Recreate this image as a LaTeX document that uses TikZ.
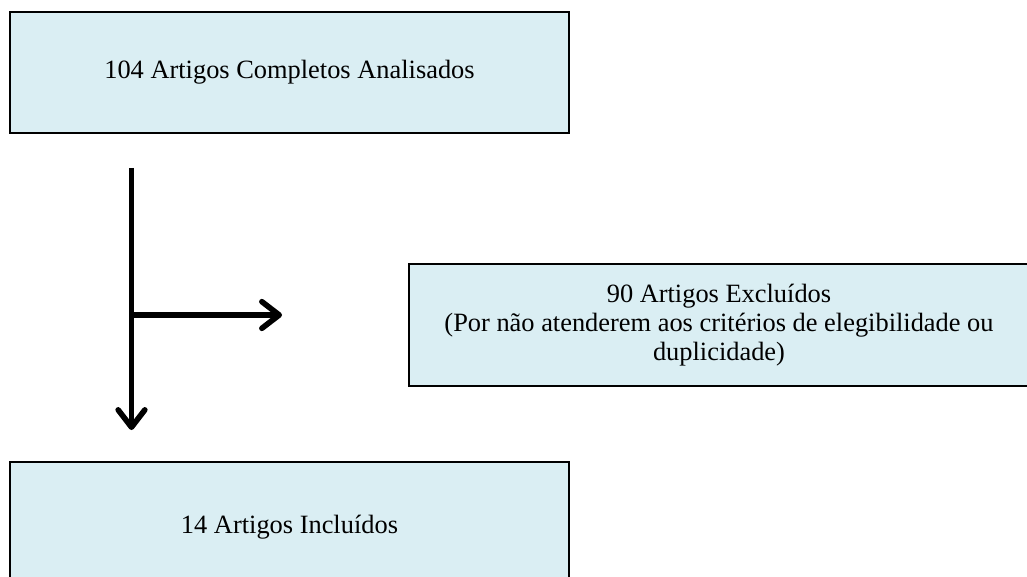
\documentclass[tikz,border=0pt]{standalone}
\usepackage{fontspec}
\setmainfont{Liberation Serif}
\usetikzlibrary{arrows.meta}
\definecolor{boxfill}{HTML}{DAEEF3}
\tikzset{
  flowbox/.style={draw=black, line width=1.5pt, fill=boxfill, inner sep=0pt,
    font=\fontsize{19.8pt}{21.75pt}\selectfont, align=center},
  flowline/.style={line width=4.2pt, line cap=butt},
  flowarrow/.style={flowline, -{Straight Barb[length=13pt,width=20pt,line cap=round,line join=round]}}
}
\begin{document}
\begin{tikzpicture}[x=0.75pt,y=-0.75pt]
\useasboundingbox (0,0) rectangle (1027,577);
\node[flowbox, minimum width=559*0.75pt, minimum height=121*0.75pt] (top) at (289.5,72.5) {104 Artigos Completos Analisados};
\node[flowbox, minimum width=620*0.75pt, minimum height=122*0.75pt] (excl) at (719,325) {90 Artigos Excluídos\\(Por não atenderem aos critérios de elegibilidade ou\\duplicidade)};
\node[flowbox, minimum width=559*0.75pt, minimum height=130*0.75pt] (incl) at (289.5,527) {14 Artigos Incluídos};
\coordinate (vstart) at (131.5,168);
\coordinate (vend) at (131.5,430);
\coordinate (junc) at (131.5,315);
\coordinate (hend) at (282,315);
\draw[flowarrow] (vstart) -- (vend);
\draw[flowarrow] (junc) -- (hend);
\end{tikzpicture}
\end{document}
